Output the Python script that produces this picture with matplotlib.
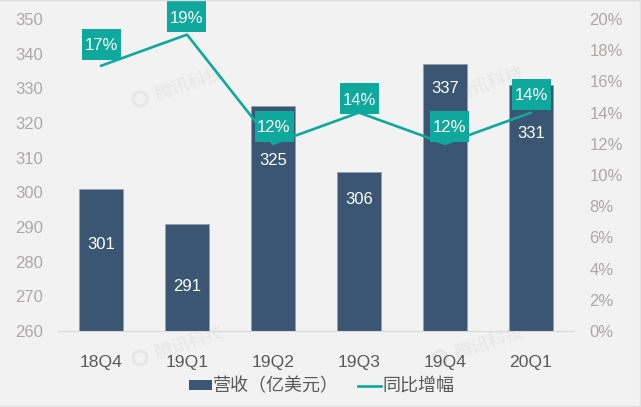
import matplotlib
matplotlib.use('Agg')
import matplotlib.pyplot as plt
from matplotlib.lines import Line2D
from matplotlib.patches import Patch, Rectangle, Circle
from matplotlib.transforms import IdentityTransform

plt.rcParams['font.family'] = ['Liberation Sans', 'Noto Sans CJK SC', 'DejaVu Sans']

quarters = ['18Q4', '19Q1', '19Q2', '19Q3', '19Q4', '20Q1']
revenue = [301, 291, 325, 306, 337, 331]
growth = [17, 19, 12, 14, 12, 14]
rev_ticks = list(range(260, 360, 10))
growth_ticks = list(range(0, 22, 2))

bg = '#f2f2f2'
navy = '#3b5672'
teal = '#0fa89c'
grey = '#aca8a8'

W, H = 641, 407
fig = plt.figure(figsize=(W / 100, H / 100), dpi=100, facecolor=bg)
# axes placed by pixels: left 58, right 574, top 19, bottom 331
ax = fig.add_axes([58 / W, 1 - 331 / H, 516 / W, 312 / H], facecolor='none')
ax2 = ax.twinx()
ax2.set_facecolor('none')

x = list(range(len(quarters)))
ax.bar(x, revenue, width=0.515, color=navy, edgecolor='#8ea0b2', linewidth=0.5, zorder=2)
ax.set_xlim(-0.5, 5.5)
ax.set_ylim(260, 350)
ax.set_yticks(rev_ticks)
ax.set_xticks(x, quarters)
ax.tick_params(axis='y', length=0, pad=11, labelsize=12, labelcolor=grey)
ax.tick_params(axis='x', length=0, pad=17.5, labelsize=12.6, labelcolor='#595959')
for s in ['top', 'left', 'right']:
    ax.spines[s].set_visible(False)
ax.spines['bottom'].set_color('#d9d9d9')

ax2.plot(x, growth, color=teal, linewidth=1.9, solid_capstyle='round', zorder=3)
ax2.set_ylim(0, 20)
ax2.set_yticks(growth_ticks, [f'{t}%' for t in growth_ticks])
ax2.tick_params(axis='y', length=0, pad=11, labelsize=12, labelcolor=grey)
for s in ax2.spines.values():
    s.set_visible(False)

# bar value labels, offset from bar top (px)
bar_drop = [56, 63, 55, 28, 24, 49]
for i, v in enumerate(revenue):
    ax2.annotate(str(v), (i, (v - 260) / 90 * 20), xytext=(0, -bar_drop[i] * 0.72),
                 textcoords='offset points', ha='center', va='center',
                 color='white', fontsize=12, zorder=5)

# growth labels in teal boxes (39x31 px), offsets in px
box_dx = [0.5, -0.5, 1, 0.5, 4, 0.5]
box_dy = [21.5, 18, 17.5, 14, 17.5, 18.5]
for i, g in enumerate(growth):
    px, py = ax2.transData.transform((i, g))
    ax2.add_patch(Rectangle((px + box_dx[i] - 19.5, py + box_dy[i] - 15.5), 39, 31,
                            transform=IdentityTransform(), fc=teal, ec='none',
                            clip_on=False, zorder=5))
    ax2.annotate(f'{g}%', (i, g), xytext=(box_dx[i] * 0.72, box_dy[i] * 0.72),
                 textcoords='offset points', ha='center', va='center_baseline',
                 color='white', fontsize=12, zorder=6)

# faint watermarks, sitting under the bars
wm_pos = [(190, 85), (490, 85), (190, 344), (490, 344)]
for px, py in wm_pos:
    fig.text(px / W, 1 - py / H, '腾讯科技', fontsize=13, color='#e7e7e7', rotation=18,
             ha='center', va='center', zorder=-1)
    fig.add_artist(Circle((px - 50, H - py - 14), 7, transform=IdentityTransform(),
                          fc='none', ec='#e7e7e7', linewidth=2.2, zorder=-1))

handles = [Patch(facecolor=navy, edgecolor='none'),
           Line2D([0], [0], color=teal, linewidth=1.9)]
fig.legend(handles, ['营收（亿美元）', '同比增幅'], loc='center', ncol=2,
           bbox_to_anchor=(321.5 / W, 1 - 387 / H), frameon=False, fontsize=13,
           labelcolor='#595959', handlelength=1.3, handleheight=0.5, handletextpad=0.05,
           columnspacing=1.05)

# thin picture border
fig.add_artist(Line2D([0, 1], [0.999, 0.999], color='#dcdcdc', linewidth=1))
fig.add_artist(Line2D([639.5 / W, 639.5 / W], [0, 1], color='#e2e2e2', linewidth=1))
fig.add_artist(Line2D([0, 1], [1.5 / H, 1.5 / H], color='#e2e2e2', linewidth=1))

fig.savefig('out.png', dpi=100, facecolor=bg)
